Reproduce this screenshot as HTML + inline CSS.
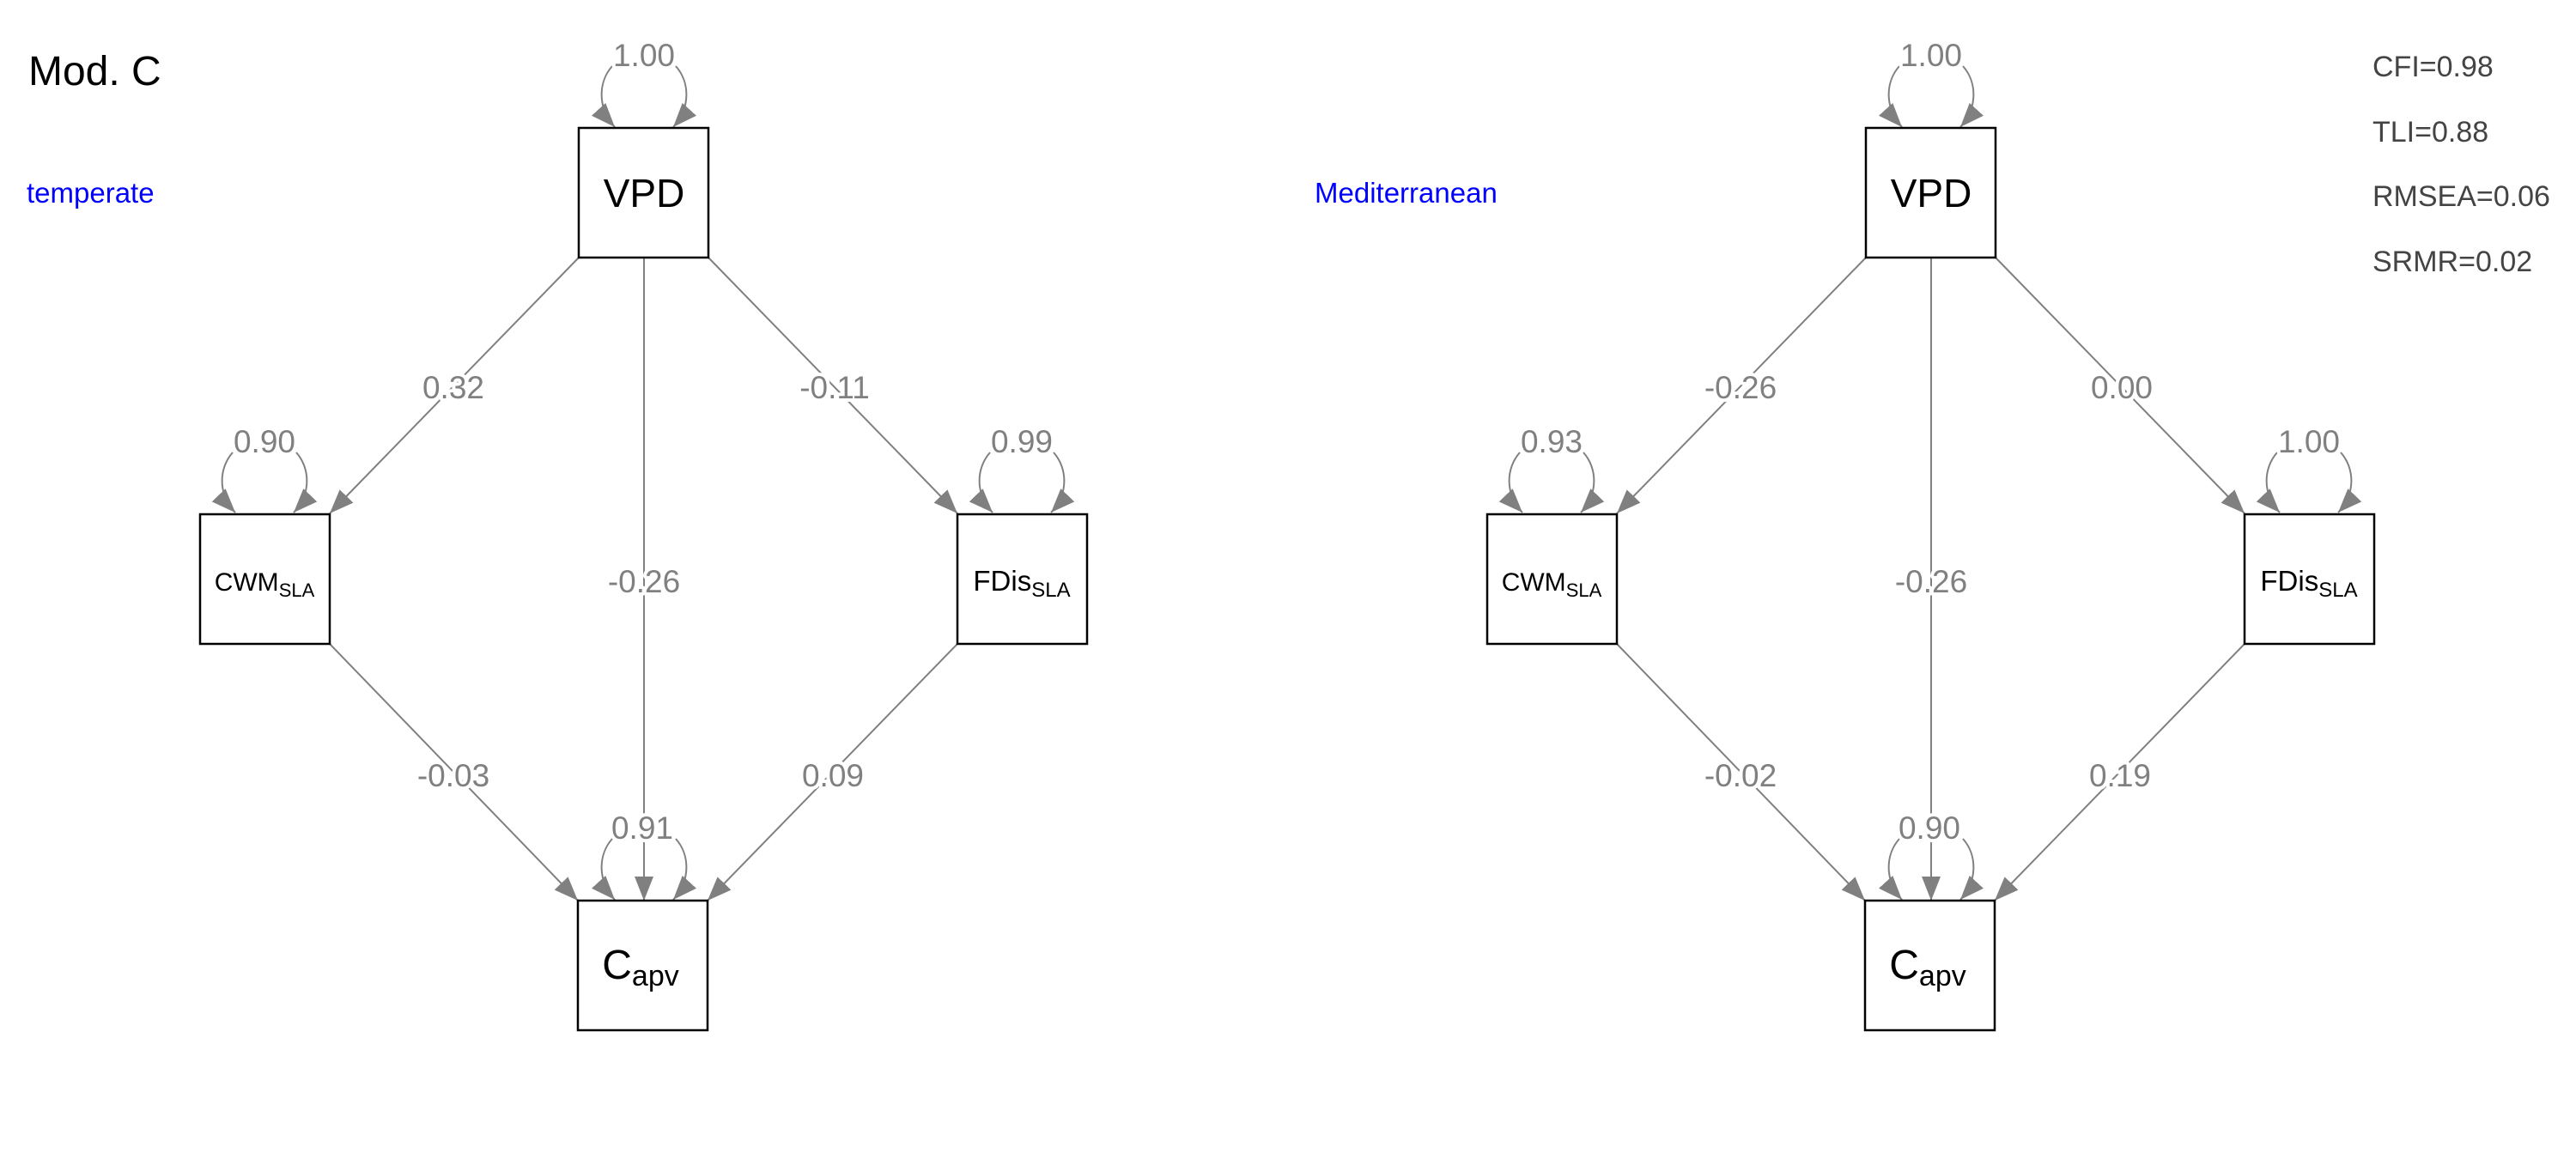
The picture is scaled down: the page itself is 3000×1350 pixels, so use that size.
<!DOCTYPE html>
<html><head><meta charset="utf-8"><style>
html,body{margin:0;padding:0;background:#fff;}
svg{display:block;font-family:"Liberation Sans",Arial,sans-serif;}
.n{fill:#808080;font-size:37px;text-anchor:middle;stroke:#fff;stroke-width:8px;paint-order:stroke;stroke-linejoin:round}
.e{stroke:#808080;stroke-width:2;fill:none;marker-end:url(#ah)}
.b{fill:#fff;stroke:#000;stroke-width:2.5}
.fit{fill:#444;font-size:34px}
</style></head><body>
<svg width="3000" height="1350" viewBox="0 0 3000 1350" xmlns="http://www.w3.org/2000/svg">
<defs>
<marker id="ah" markerUnits="userSpaceOnUse" markerWidth="30" markerHeight="24" refX="28" refY="11" orient="auto">
<path d="M0,0 L28,11 L0,22 z" fill="#808080"/>
</marker>
</defs>
<rect width="3000" height="1350" fill="#fff"/>
<text x="33" y="99" font-size="48" fill="#000">Mod. C</text>
<text x="31" y="236" font-size="33" fill="#0000ff">temperate</text>
<text x="1531" y="236" font-size="33" fill="#0000ff">Mediterranean</text>
<text class="fit" x="2763" y="89">CFI=0.98</text>
<text class="fit" x="2763" y="165">TLI=0.88</text>
<text class="fit" x="2763" y="240">RMSEA=0.06</text>
<text class="fit" x="2763" y="316">SRMR=0.02</text>

<g id="left">
<path class="e" d="M674,300 L384,598"/>
<path class="e" d="M825,300 L1115,598"/>
<path class="e" d="M750,300 L750,1049"/>
<path class="e" d="M384,750 L673,1049"/>
<path class="e" d="M1115,750 L824,1049"/>
<path class="e" d="M713,77 C697,95 695,125 716,148"/>
<path class="e" d="M787,77 C803,95 805,125 784,148"/>
<path class="e" d="M271,527 C255,545 253,575 274,597"/>
<path class="e" d="M345,527 C361,545 363,575 342,597"/>
<path class="e" d="M1153,527 C1137,545 1135,575 1156,597"/>
<path class="e" d="M1227,527 C1243,545 1245,575 1224,597"/>
<path class="e" d="M713,977 C697,995 695,1025 716,1048"/>
<path class="e" d="M787,977 C803,995 805,1025 784,1048"/>
<rect class="b" x="674" y="149" width="151" height="151"/>
<rect class="b" x="233" y="599" width="151" height="151"/>
<rect class="b" x="1115" y="599" width="151" height="151"/>
<rect class="b" x="673" y="1049" width="151" height="151"/>
<text x="750" y="241" font-size="46" text-anchor="middle">VPD</text>
<text x="308" y="688" font-size="30" text-anchor="middle">CWM<tspan font-size="22" dy="7">SLA</tspan></text>
<text x="1190" y="688" font-size="33" text-anchor="middle">FDis<tspan font-size="24" dy="7">SLA</tspan></text>
<text x="746" y="1140" font-size="48" text-anchor="middle">C<tspan font-size="34" dy="8">apv</tspan></text>
<text class="n" x="750" y="77">1.00</text>
<text class="n" x="528" y="464">0.32</text>
<text class="n" x="972" y="464">-0.11</text>
<text class="n" x="308" y="527">0.90</text>
<text class="n" x="1190" y="527">0.99</text>
<text class="n" x="750" y="690">-0.26</text>
<text class="n" x="528" y="916">-0.03</text>
<text class="n" x="970" y="916">0.09</text>
<text class="n" x="748" y="977">0.91</text>
</g>

<g transform="translate(1499,0)">
<path class="e" d="M674,300 L384,598"/>
<path class="e" d="M825,300 L1115,598"/>
<path class="e" d="M750,300 L750,1049"/>
<path class="e" d="M384,750 L673,1049"/>
<path class="e" d="M1115,750 L824,1049"/>
<path class="e" d="M713,77 C697,95 695,125 716,148"/>
<path class="e" d="M787,77 C803,95 805,125 784,148"/>
<path class="e" d="M271,527 C255,545 253,575 274,597"/>
<path class="e" d="M345,527 C361,545 363,575 342,597"/>
<path class="e" d="M1153,527 C1137,545 1135,575 1156,597"/>
<path class="e" d="M1227,527 C1243,545 1245,575 1224,597"/>
<path class="e" d="M713,977 C697,995 695,1025 716,1048"/>
<path class="e" d="M787,977 C803,995 805,1025 784,1048"/>
<rect class="b" x="674" y="149" width="151" height="151"/>
<rect class="b" x="233" y="599" width="151" height="151"/>
<rect class="b" x="1115" y="599" width="151" height="151"/>
<rect class="b" x="673" y="1049" width="151" height="151"/>
<text x="750" y="241" font-size="46" text-anchor="middle">VPD</text>
<text x="308" y="688" font-size="30" text-anchor="middle">CWM<tspan font-size="22" dy="7">SLA</tspan></text>
<text x="1190" y="688" font-size="33" text-anchor="middle">FDis<tspan font-size="24" dy="7">SLA</tspan></text>
<text x="746" y="1140" font-size="48" text-anchor="middle">C<tspan font-size="34" dy="8">apv</tspan></text>
<text class="n" x="750" y="77">1.00</text>
<text class="n" x="528" y="464">-0.26</text>
<text class="n" x="972" y="464">0.00</text>
<text class="n" x="308" y="527">0.93</text>
<text class="n" x="1190" y="527">1.00</text>
<text class="n" x="750" y="690">-0.26</text>
<text class="n" x="528" y="916">-0.02</text>
<text class="n" x="970" y="916">0.19</text>
<text class="n" x="748" y="977">0.90</text>
</g>
</svg>
</body></html>
